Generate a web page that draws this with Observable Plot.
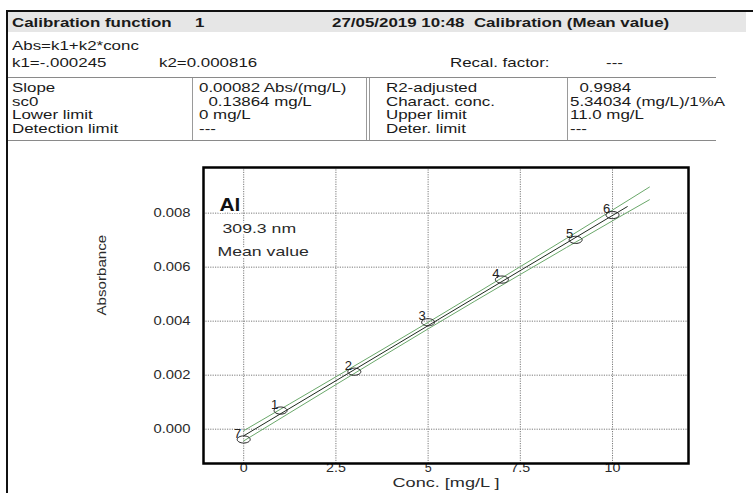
<!DOCTYPE html>
<html>
<head>
<meta charset="utf-8">
<script src="https://cdn.jsdelivr.net/npm/d3@7"></script>
<script src="https://cdn.jsdelivr.net/npm/@observablehq/plot@0.6"></script>
<style>
  html, body { margin: 0; padding: 0; background: #fff; }
  #page { position: relative; width: 753px; height: 493px; overflow: hidden; font-family: "Liberation Sans", Arial, sans-serif; color: #1a1a1a; }
  .t { position: absolute; font-size: 13px; line-height: 16px; white-space: pre; transform: scaleX(1.3); transform-origin: 0 50%; }
  .b { font-weight: bold; }
  .hl { position: absolute; height: 0; border-top: 1.5px solid #8a8a8a; }
  .vl { position: absolute; width: 0; border-left: 1.5px solid #9a9a9a; }
  #chart { position: absolute; left: 0; top: 150px; overflow: visible; }
</style>
</head>
<body>
<div id="page"></div>
<script>
// ---- data ----
const headerCells = ["Calibration function", "1", "27/05/2019 10:48  Calibration (Mean value)"];
const equationText = "Abs=k1+k2*conc";
const coefCells = ["k1=-.000245", "k2=0.000816", "Recal. factor:", "---"];
const tableLabels1 = ["Slope", "sc0", "Lower limit", "Detection limit"];
const tableValues1 = ["0.00082 Abs/(mg/L)", "  0.13864 mg/L", "0 mg/L", "---"];
const tableLabels2 = ["R2-adjusted", "Charact. conc.", "Upper limit", "Deter. limit"];
const tableValues2 = ["  0.9984", "5.34034 (mg/L)/1%A", "11.0 mg/L", "---"];

const elementName = "Al";
const wavelength = "309.3 nm";
const modeText = "Mean value";
const xLabel = "Conc. [mg/L ]";
const yLabel = "Absorbance";

const xTicks = [0, 2.5, 5, 7.5, 10];
const yTicks = [0, 0.002, 0.004, 0.006, 0.008];

const stdConc = [0, 1, 3, 5, 7, 9, 10];
const stdAbs = [-0.00038, 0.00069, 0.00213, 0.00396, 0.00554, 0.00701, 0.00793];
const stdLabel = ["7", "1", "2", "3", "4", "5", "6"];

const fitConc = [0, 10.4];
const fitAbs = [-0.000245, 0.008241];

const bandConc = [0, 2.5, 5, 7.5, 10, 11];
const bandUpper = [-0.000055, 0.001940, 0.003955, 0.006020, 0.008115, 0.008965];
const bandLower = [-0.000435, 0.001650, 0.003715, 0.005730, 0.007715, 0.008495];

// ---- table (HTML) ----
const page = document.getElementById("page");
function txt(s, x, yc, cls) {
  const d = document.createElement("div");
  d.className = "t" + (cls ? " " + cls : "");
  d.textContent = s;
  d.style.left = x + "px";
  d.style.top = (yc - 8) + "px";
  page.appendChild(d);
}
function box(cls, style) {
  const d = document.createElement("div");
  d.className = cls;
  Object.assign(d.style, style);
  page.appendChild(d);
}
box("", {position: "absolute", left: "8px", top: "12px", width: "738px", height: "20px", background: "#e6e6e6"});
box("", {position: "absolute", left: "7px", top: "10px", width: "746px", height: "0", borderTop: "2px solid #111"});
box("", {position: "absolute", left: "6px", top: "10px", width: "0", height: "483px", borderLeft: "2px solid #111"});

const headerX = [12, 195, 332];
headerCells.forEach((s, i) => txt(s, headerX[i], 23, "b"));
txt(equationText, 12, 46);
const coefX = [12, 159, 450, 606];
coefCells.forEach((s, i) => txt(s, coefX[i], 63, ""));

box("hl", {left: "8px", top: "77px", width: "708px"});
box("hl", {left: "8px", top: "140px", width: "708px"});
box("vl", {left: "192px", top: "78px", height: "62px"});
box("vl", {left: "366px", top: "78px", height: "62px"});
box("vl", {left: "369px", top: "78px", height: "62px"});
box("vl", {left: "567px", top: "78px", height: "62px"});

const rowY = [88, 101.5, 115, 129];
const colX = [12, 199, 386, 570];
rowY.forEach((y, i) => {
  txt(tableLabels1[i], colX[0], y);
  txt(tableValues1[i], colX[1], y);
  txt(tableLabels2[i], colX[2], y);
  txt(tableValues2[i], colX[3], y);
});

// ---- chart (Plot) ----
const stds = stdConc.map((c, i) => ({c, a: stdAbs[i], label: stdLabel[i]}));
const fit = fitConc.map((c, i) => ({c, a: fitAbs[i]}));
const band = bandConc.map((c, i) => ({c, hi: bandUpper[i], lo: bandLower[i]}));

const ellipse = {
  draw(ctx, size) {
    const rx = Math.sqrt(size / Math.PI), ry = rx * 0.55, k = 0.5523;
    ctx.moveTo(rx, 0);
    ctx.bezierCurveTo(rx, ry * k, rx * k, ry, 0, ry);
    ctx.bezierCurveTo(-rx * k, ry, -rx, ry * k, -rx, 0);
    ctx.bezierCurveTo(-rx, -ry * k, -rx * k, -ry, 0, -ry);
    ctx.bezierCurveTo(rx * k, -ry, rx, -ry * k, rx, 0);
    ctx.closePath();
  }
};

const gridStyle = {stroke: "#7a7a7a", strokeOpacity: 1, strokeDasharray: "1.2,1.2", strokeWidth: 1};
const green = "#6aa86a";

const chart = Plot.plot({
  width: 753,
  height: 343,
  marginLeft: 203,
  marginRight: 65,
  marginTop: 17,
  marginBottom: 30,
  style: {fontFamily: "'Liberation Sans', Arial, sans-serif", fontSize: "13px", color: "#2a2a2a", background: "transparent", overflow: "visible"},
  x: {domain: [-1.09, 12.06]},
  y: {domain: [-0.00127, 0.00969]},
  marks: [
    Plot.gridX(xTicks, gridStyle),
    Plot.gridY(yTicks, gridStyle),
    Plot.axisX(xTicks, {tickSize: 0, tickPadding: 0, label: null, tickFormat: d => String(d), fontSize: 12.5}),
    Plot.axisY(yTicks, {tickSize: 0, tickPadding: 13, label: null, tickFormat: d3.format(".3f"), fontSize: 13}),
    Plot.text([elementName], {frameAnchor: "top-left", dx: 16, dy: 30, textAnchor: "start", fontWeight: "bold", fontSize: 19, fill: "#111", stroke: "white", strokeWidth: 4}),
    Plot.text([wavelength], {frameAnchor: "top-left", dx: 19, dy: 56, textAnchor: "start", fontSize: 13, fill: "#2a2a2a", stroke: "white", strokeWidth: 4}),
    Plot.text([modeText], {frameAnchor: "top-left", dx: 14, dy: 79, textAnchor: "start", fontSize: 13, fill: "#2a2a2a", stroke: "white", strokeWidth: 4}),
    Plot.line(band, {x: "c", y: "hi", stroke: green, strokeWidth: 1, curve: "monotone-x"}),
    Plot.line(band, {x: "c", y: "lo", stroke: green, strokeWidth: 1, curve: "monotone-x"}),
    Plot.line(fit, {x: "c", y: "a", stroke: "#1e2a1e", strokeWidth: 1}),
    Plot.dot(stds, {x: "c", y: "a", symbol: ellipse, r: 6.5, fill: "none", stroke: "#222", strokeWidth: 1}),
    Plot.text(stds, {x: "c", y: "a", text: "label", dx: -6, dy: -6, fontSize: 13, fill: "#222"}),
    Plot.text([yLabel], {frameAnchor: "left", dx: -102, rotate: -90, fontSize: 13.5, fill: "#2a2a2a"}),
    Plot.text([xLabel], {frameAnchor: "bottom", dy: 23.5, fontSize: 12.5, fill: "#2a2a2a"}),
    Plot.frame({stroke: "#000", strokeWidth: 2.5})
  ]
});
chart.id = "chart";
page.appendChild(chart);

// stretch texts horizontally around their own anchor to match the reference's wide lettering
const stretch = {"309.3 nm": 1.36, "Mean value": 1.36, "Al": 1.1, "Conc. [mg/L ]": 1.45, "Absorbance": 1.12};
const pointLabels = new Set(stdLabel);
chart.querySelectorAll("text").forEach(t => {
  const s0 = t.textContent;
  const tr = t.getAttribute("transform");
  if (!tr) return;
  let s = stretch[s0];
  if (s === undefined) s = pointLabels.has(s0) ? 1 : 1.14;
  if (s !== 1) t.setAttribute("transform", `${tr} scale(${s},1)`);
});
</script>
</body>
</html>
